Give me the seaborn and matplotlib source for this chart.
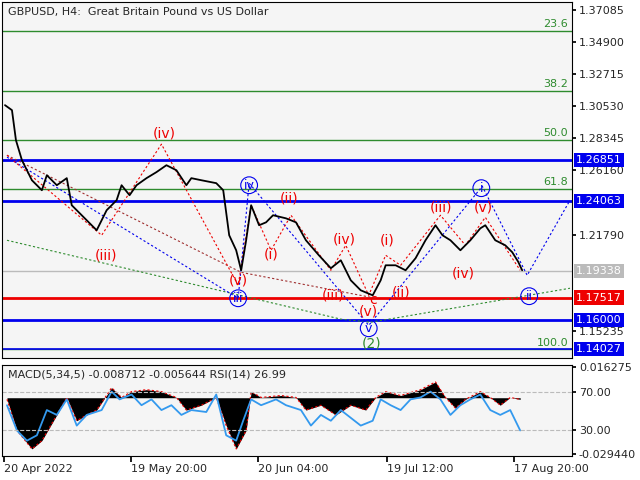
import numpy as np
import pandas as pd
import matplotlib
matplotlib.use("Agg")
import matplotlib.pyplot as plt
import matplotlib.transforms as mtransforms
import seaborn as sns

sns.set_theme(style="white")
plt.rcParams['font.family'] = ['DejaVu Sans']

# price path (time axis in chart units)
px_x = [3, 10, 14, 20, 30, 40, 45, 55, 65, 70, 80, 95, 105, 115, 120, 128, 135, 145, 155, 165,
        175, 185, 190, 200, 215, 222, 228, 235, 240, 245, 250, 258, 265, 272, 285, 295, 305, 318,
        330, 340, 350, 360, 372, 380, 385, 395, 405, 415, 425, 435, 442, 450, 460, 470, 480, 485,
        495, 505, 512, 518, 522]
px_y = [1.3059, 1.3025, 1.2821, 1.2685, 1.2549, 1.2481, 1.2583, 1.2515, 1.2563, 1.2379, 1.2311,
        1.2209, 1.2345, 1.2413, 1.2515, 1.2447, 1.2515, 1.2563, 1.2604, 1.2651, 1.2617, 1.2515,
        1.2563, 1.2549, 1.2529, 1.2481, 1.2175, 1.2073, 1.1937, 1.2141, 1.2379, 1.2243, 1.2263,
        1.2311, 1.2290, 1.2263, 1.2141, 1.2039, 1.1951, 1.2005, 1.1869, 1.1801, 1.1767, 1.1869,
        1.1971, 1.1971, 1.1937, 1.2019, 1.2141, 1.2243, 1.2175, 1.2141, 1.2073, 1.2141, 1.2222,
        1.2243, 1.2141, 1.2107, 1.2060, 1.1995, 1.1937]

# indicator panel
rsi_x = [5, 15, 25, 35, 45, 55, 65, 75, 85, 100, 110, 118, 130, 140, 150, 160, 170, 180, 190, 205,
         215, 225, 235, 242, 250, 260, 275, 285, 300, 310, 320, 330, 340, 350, 360, 372, 380, 390,
         400, 410, 420, 430, 440, 450, 460, 470, 480, 490, 500, 510, 520]
rsi_y = [56, 30, 19.5, 25, 51, 46, 62, 35, 46, 51, 70, 62, 67, 56, 62, 51, 56, 46, 51, 49, 67, 25,
         19.5, 40, 62, 56, 62, 56, 51, 35, 46, 40, 51, 43, 35, 40, 62, 56, 51, 62, 64, 70, 62, 46,
         56, 62, 67, 51, 46, 51, 30]
macd_x = [5, 15, 30, 40, 55, 65, 75, 85, 95, 110, 120, 130, 145, 160, 175, 185, 200, 215, 225, 235,
          245, 250, 260, 280, 295, 305, 320, 335, 350, 365, 375, 385, 400, 420, 435, 445, 455, 465,
          480, 490, 500, 510, 520]
macd_y = [62, 30, 11, 19.5, 46, 64, 40, 46, 51, 74, 64, 70, 72, 70, 64, 51, 56, 64, 35, 11, 30, 70,
          64, 66, 64, 51, 56, 46, 56, 51, 64, 70, 66, 72, 80, 64, 53, 62, 70, 64, 56, 64, 62]
macd_base = 63.7

# levels
fib_levels = [1.3562, 1.3154, 1.2821, 1.2488, 1.1400]
fib_names = ["23.6", "38.2", "50.0", "61.8", "100.0"]
blue_levels = [1.26851, 1.24063, 1.16000]
red_level = 1.17517
last_price = 1.19338
axis_ticks = [1.37085, 1.34900, 1.32715, 1.30530, 1.28345, 1.26160, 1.21790, 1.15235]

# wave paths
blue_wave_x = [5, 237, 248, 368, 482, 527, 570]
blue_wave_y = [1.2706, 1.1747, 1.2529, 1.1563, 1.2508, 1.1903, 1.2413]
green_wave_x = [5, 340, 370, 570]
green_wave_y = [1.2141, 1.1605, 1.1584, 1.1815]
brown_wave_x = [5, 240, 375]
brown_wave_y = [1.2719, 1.1923, 1.1747]
red_wave_x = [5, 100, 160, 237, 250, 270, 290, 330, 345, 368, 385, 400, 440, 465, 485, 520]
red_wave_y = [1.2719, 1.2175, 1.2794, 1.1835, 1.2379, 1.2073, 1.2311, 1.1937, 1.2107, 1.1767,
              1.2039, 1.1971, 1.2311, 1.2107, 1.2297, 1.1937]

red_lbl_x = [163, 104, 237, 270, 288, 343, 332, 368, 386, 400, 441, 483, 463, 372]
red_lbl_y = [1.2869, 1.2039, 1.1869, 1.2046, 1.2427, 1.2148, 1.1767, 1.1658, 1.2141, 1.1788,
             1.2366, 1.2366, 1.1917, 1.1733]
red_lbl_t = ["(iv)", "(iii)", "(v)", "(i)", "(ii)", "(iv)", "(iii)", "(v)", "(i)", "(ii)",
             "(iii)", "(v)", "(iv)", "c"]
blue_lbl_x = [248, 237, 368, 481, 529]
blue_lbl_y = [1.2515, 1.1747, 1.1543, 1.2495, 1.1761]
blue_lbl_t = ["iv", "iii", "v", "i", "ii"]

bg = "#f5f5f5"
fig = plt.figure(figsize=(6.4, 4.8), dpi=100, facecolor="white")
ax = fig.add_axes([2 / 640, 122 / 480, 570 / 640, 356 / 480], facecolor=bg)
ax2 = fig.add_axes([2 / 640, 24 / 480, 570 / 640, 91 / 480], facecolor=bg)

for lv, nm in zip(fib_levels, fib_names):
    ax.axhline(lv, color="#2e8b2e", lw=1)
    ax.text(568, lv + 0.0012, nm, color="#2e8b2e", fontsize=8, ha="right", va="bottom")
ax.axhline(last_price, color="#bbbbbb", lw=1)
for lv in blue_levels + [1.14027]:
    ax.axhline(lv, color="#0000ee", lw=2 if lv != 1.14027 else 1.2)
ax.axhline(red_level, color="#ee0000", lw=2)

ax.plot(green_wave_x, green_wave_y, color="#2e8b2e", ls=(0, (2, 2)), lw=0.8)
ax.plot(brown_wave_x, brown_wave_y, color="#a03030", ls=(0, (2, 2)), lw=0.8)
ax.plot(blue_wave_x, blue_wave_y, color="#0000ee", ls=(0, (2, 2)), lw=0.8)
ax.plot(red_wave_x, red_wave_y, color="#ee0000", ls=(0, (2, 2)), lw=0.8)

price = pd.DataFrame({"t": px_x, "p": px_y})
sns.lineplot(data=price, x="t", y="p", color="black", lw=1.3, ax=ax)

for x, y, t in zip(red_lbl_x, red_lbl_y, red_lbl_t):
    ax.text(x, y, t, color="#ee0000", fontsize=10, ha="center", va="center")
for x, y, t in zip(blue_lbl_x, blue_lbl_y, blue_lbl_t):
    ax.text(x, y, t, color="#0000ee", fontsize=9, ha="center", va="center",
            bbox=dict(boxstyle="circle,pad=0.15", fc="none", ec="#0000ee", lw=0.8))
ax.text(371, 1.1441, "(2)", color="#2e8b2e", fontsize=10, ha="center", va="center")

ax.set_xlim(0, 572)
ax.set_ylim(1.1341, 1.3760)
ax.yaxis.tick_right()
ax.set_yticks(axis_ticks)
ax.set_yticklabels([f"{v:.5f}" for v in axis_ticks], fontsize=8)
ax.set_xticks([])
ax.set_xlabel("")
ax.set_ylabel("")
ax.tick_params(axis="y", length=3, pad=2, color="black")

tr = mtransforms.blended_transform_factory(ax.transAxes, ax.transData)
boxes = [(1.26851, "#0000ee", "white"), (1.24063, "#0000ee", "white"), (1.16000, "#0000ee", "white"),
         (1.14027, "#0000ee", "white"), (red_level, "#ee0000", "white"), (last_price, "#bbbbbb", "white")]
for v, fc, tc in boxes:
    ax.text(1.007, v, f"{v:.5f}", transform=tr, fontsize=8, color=tc, va="center", ha="left",
            bbox=dict(boxstyle="square,pad=0.2", fc=fc, ec="none"), clip_on=False)
ax.text(0.01, 0.985, "GBPUSD, H4:  Great Britain Pound vs US Dollar", transform=ax.transAxes,
        fontsize=8, va="top")

# indicator panel
mx = np.array(macd_x)
my = np.array(macd_y)
ax2.fill_between(mx, macd_base, my, color="black", lw=0)
ax2.plot(mx, my, color="#ee0000", ls=(0, (2, 2)), lw=0.8)
ax2.plot(rsi_x, rsi_y, color="#3399ee", lw=1.3)
ax2.axhline(70, color="#bbbbbb", ls="--", lw=0.8)
ax2.axhline(30, color="#bbbbbb", ls="--", lw=0.8)
ax2.set_xlim(0, 572)
ax2.set_ylim(3.7, 97.4)
ax2.yaxis.tick_right()
ax2.set_yticks([95, 70, 30, 6])
ax2.set_yticklabels(["0.016275", "70.00", "30.00", "-0.029440"], fontsize=8)
ax2.tick_params(axis="y", length=3, pad=2, color="black")
ax2.set_xticks([2, 129, 257, 386, 514])
ax2.set_xticklabels(["20 Apr 2022", "19 May 20:00", "20 Jun 04:00", "19 Jul 12:00", "17 Aug 20:00"],
                    fontsize=8, ha="left")
ax2.tick_params(axis="x", length=4, pad=2, color="black", bottom=True)
ax2.text(0.01, 0.95, "MACD(5,34,5) -0.008712 -0.005644 RSI(14) 26.99", transform=ax2.transAxes,
         fontsize=8, va="top")

for a in (ax, ax2):
    for s in a.spines.values():
        s.set_color("black")
        s.set_linewidth(0.8)

fig.savefig("out.png", dpi=100, facecolor="white")
